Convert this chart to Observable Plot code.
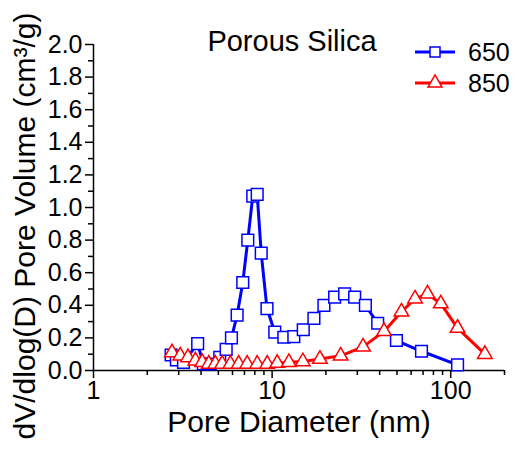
<!DOCTYPE html>
<html>
<head>
<meta charset="utf-8">
<script src="https://cdn.jsdelivr.net/npm/d3@7"></script>
<script src="https://cdn.jsdelivr.net/npm/@observablehq/plot@0.6"></script>
<style>
  body { margin: 0; background: #fff; }
  #wrap { position: relative; width: 519px; height: 450px; font-family: "Liberation Sans", Arial, sans-serif; }
  #overlay { position: absolute; left: 0; top: 0; pointer-events: none; }
</style>
</head>
<body>
<div id="wrap"></div>
<script>
// ---- data ----
const seriesNames = ["650", "850"];
const title = "Porous Silica";
const xLabel = "Pore Diameter (nm)";
const yLabel = "dV/dlog(D) Pore Volume (cm³/g)";

const d650 = [2.72, 2.91, 3.19, 3.83, 4.12, 4.51, 5.09, 5.53, 5.92, 6.37, 6.85, 7.31, 7.79, 8.25, 8.69, 9.36, 10.35, 11.63, 13.23, 14.94, 17.14, 19.5, 22.39, 25.47, 28.98, 33.28, 39.0, 49.66, 68.6, 109.2];
const v650 = [0.095, 0.065, 0.05, 0.165, 0.04, 0.04, 0.08, 0.13, 0.20, 0.34, 0.54, 0.80, 1.07, 1.08, 0.72, 0.38, 0.235, 0.204, 0.208, 0.25, 0.32, 0.40, 0.45, 0.47, 0.45, 0.40, 0.29, 0.184, 0.118, 0.035];

const d850 = [2.75, 3.06, 3.38, 3.72, 4.06, 4.42, 4.81, 5.25, 5.84, 6.50, 7.25, 8.25, 9.39, 10.68, 12.41, 14.86, 18.52, 24.19, 32.27, 42.31, 52.97, 63.1, 74.1, 88.0, 109.2, 155.3];
const v850 = [0.11, 0.09, 0.08, 0.06, 0.05, 0.04, 0.04, 0.04, 0.04, 0.04, 0.04, 0.04, 0.04, 0.045, 0.05, 0.055, 0.07, 0.09, 0.145, 0.24, 0.36, 0.44, 0.47, 0.41, 0.26, 0.10];

const yTicks = [0, 0.2, 0.4, 0.6, 0.8, 1.0, 1.2, 1.4, 1.6, 1.8, 2.0];
const yMinor = [0.1, 0.3, 0.5, 0.7, 0.9, 1.1, 1.3, 1.5, 1.7, 1.9];
const xTicks = [1, 10, 100];
const xMinor = [2, 3, 4, 5, 6, 7, 8, 9, 20, 30, 40, 50, 60, 70, 80, 90, 200];

const colors = ["#0000ff", "#ff0000"];

const s650 = d650.map((d, i) => ({d, v: v650[i]}));
const s850 = d850.map((d, i) => ({d, v: v850[i]}));

const chart = Plot.plot({
  width: 519,
  height: 450,
  marginLeft: 93,
  marginRight: 15,
  marginTop: 44,
  marginBottom: 80,
  style: {fontFamily: '"Liberation Sans", Arial, sans-serif', fontSize: "25px", color: "#000", background: "#fff"},
  x: {type: "log", domain: [1, 200]},
  y: {domain: [0, 2]},
  marks: [
    Plot.axisY({ticks: yTicks, tickSize: 8, tickPadding: 3, tickFormat: d3.format(".1f"), label: null, fontSize: 25, strokeWidth: 1.5}),
    Plot.axisY({ticks: yMinor, tickSize: 5, text: null, label: null, strokeWidth: 1.5}),
    Plot.axisX({ticks: xTicks, tickSize: 8, tickPadding: 3, tickFormat: d3.format("d"), label: null, fontSize: 25, strokeWidth: 1.5}),
    Plot.axisX({ticks: xMinor, tickSize: 5, text: null, label: null, strokeWidth: 1.5}),
    Plot.ruleX([1], {stroke: "#000", strokeWidth: 1.5}),
    Plot.ruleY([0], {stroke: "#000", strokeWidth: 1.5}),
    Plot.line(s650, {x: "d", y: "v", stroke: colors[0], strokeWidth: 3}),
    Plot.dot(s650, {x: "d", y: "v", symbol: "square", r: 6.6, stroke: colors[0], fill: "#fff", strokeWidth: 1.5}),
    Plot.line(s850, {x: "d", y: "v", stroke: colors[1], strokeWidth: 3}),
    Plot.dot(s850, {x: "d", y: "v", symbol: "triangle", r: 5.4, stroke: colors[1], fill: "#fff", strokeWidth: 1.5})
  ]
});

const wrap = document.getElementById("wrap");
wrap.appendChild(chart);

// overlay: title, axis titles, legend
const ns = "http://www.w3.org/2000/svg";
const ov = d3.select(wrap).append("svg").attr("id", "overlay").attr("width", 519).attr("height", 450)
  .style("font-family", '"Liberation Sans", Arial, sans-serif');

ov.append("text").attr("x", 292).attr("y", 51).attr("text-anchor", "middle").attr("font-size", 29).text(title);
ov.append("text").attr("x", 299).attr("y", 432).attr("text-anchor", "middle").attr("font-size", 30).text(xLabel);
ov.append("text").attr("transform", "translate(35,226) rotate(-90)").attr("text-anchor", "middle").attr("font-size", 30).text(yLabel);

const legY = [52, 83];
const sym = [d3.symbol(d3.symbolSquare, 100)(), d3.symbol(d3.symbolTriangle, 85)()];
seriesNames.forEach((name, i) => {
  const g = ov.append("g").attr("transform", `translate(0,${legY[i]})`);
  g.append("line").attr("x1", 415).attr("x2", 455).attr("y1", 0).attr("y2", 0).attr("stroke", colors[i]).attr("stroke-width", 3);
  g.append("path").attr("d", sym[i]).attr("transform", "translate(435,0)").attr("fill", "#fff").attr("stroke", colors[i]).attr("stroke-width", 1.5);
  g.append("text").attr("x", 468).attr("y", 9).attr("font-size", 25).text(name);
});
</script>
</body>
</html>
